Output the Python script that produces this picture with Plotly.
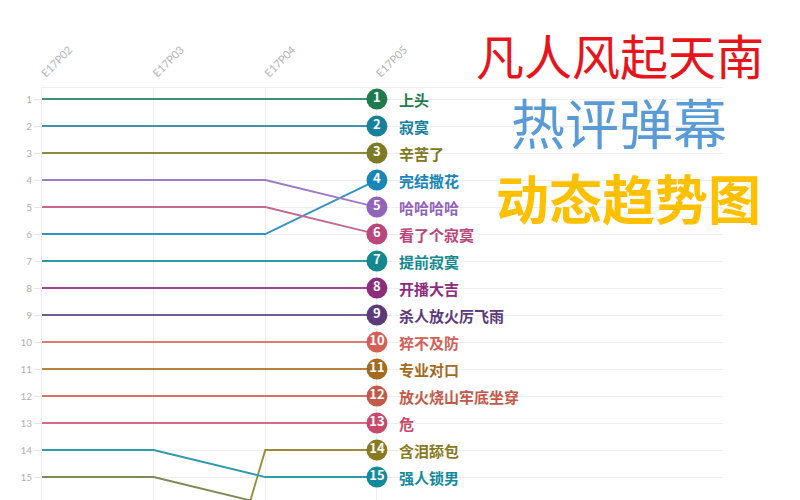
import plotly.graph_objects as go

episodes = ["E17P02", "E17P03", "E17P04", "E17P05"]
names = ["上头", "寂寞", "辛苦了", "完结撒花", "哈哈哈哈", "看了个寂寞", "提前寂寞", "开播大吉",
         "杀人放火厉飞雨", "猝不及防", "专业对口", "放火烧山牢底坐穿", "危", "含泪舔包", "强人锁男", "其他"]
ranks = [
    [1, 1, 1, 1],
    [2, 2, 2, 2],
    [3, 3, 3, 3],
    [6, 6, 6, 4],
    [4, 4, 4, 5],
    [5, 5, 5, 6],
    [7, 7, 7, 7],
    [8, 8, 8, 8],
    [9, 9, 9, 9],
    [10, 10, 10, 10],
    [11, 11, 11, 11],
    [12, 12, 12, 12],
    [13, 13, 13, 13],
    [30, 28, 14, 14],
    [14, 14, 15, 15],
    [15, 15, 16, 17],
]
colors = ["#1f7a4e", "#17809a", "#7d7a25", "#1a86b8", "#9163b9", "#b9477c", "#13898f", "#8b2d7b",
          "#5d3b7b", "#d25f58", "#a46b1f", "#c25949", "#c9496b", "#8a7a1f", "#138a9b", "#6b7b3a"]
line_colors = ["#3d9274", "#3f93aa", "#8d8a3e", "#2f93c2", "#9f7bc4", "#c46a93", "#2e9aa0", "#9a4a8c",
               "#755a90", "#dc7a74", "#b3833f", "#cf7466", "#d56a86", "#9a8c3b", "#2f9aa9", "#7d8a55"]

x_idx = list(range(len(episodes)))
ymin, ymax = 0.59, 15.85
last = len(episodes) - 1

fig = go.Figure()
for n, r, lc in zip(names, ranks, line_colors):
    fig.add_trace(go.Scatter(x=x_idx, y=r, mode="lines", line=dict(color=lc, width=1.9),
                             hoverinfo="skip", showlegend=False, name=n))

vis = [i for i, r in enumerate(ranks) if r[last] <= ymax]
final_ranks = [ranks[i][last] for i in vis]
fig.add_trace(go.Scatter(
    x=[last] * len(vis), y=final_ranks, mode="markers+text",
    marker=dict(size=21, color=[colors[i] for i in vis], line=dict(width=0)),
    text=[str(v) for v in final_ranks], textposition="middle center",
    textfont=dict(color="white", size=13, family="Noto Sans CJK SC", weight="bold"),
    showlegend=False, hoverinfo="skip"))

annotations = []
for i in vis:
    annotations.append(dict(x=last, y=ranks[i][last], xref="x", yref="y", text=names[i], showarrow=False,
                            xanchor="left", yanchor="middle", xshift=20,
                            font=dict(color=colors[i], size=15, family="Noto Sans CJK SC", weight="bold")))

# page offset: the html body adds 8px; plot area wanted at x 42..723, y 88..500 in the window
L, T, R, B = 34, 80, 85, 8
PW, PH = 800 - L - R, 500 - T - B
titles = [("凡人风起天南", "#e8141c", 48, "normal", 620, 54),
          ("热评弹幕", "#5b9bd5", 54, "normal", 619, 122),
          ("动态趋势图", "#ffc000", 53, "bold", 628, 197)]
for t, c, s, w, px, py in titles:
    annotations.append(dict(x=(px - 8 - L) / PW, y=(500 - (py - 8) - B) / PH, xref="paper", yref="paper",
                            text=t, showarrow=False, xanchor="center", yanchor="middle",
                            font=dict(color=c, size=s, family="Noto Sans CJK SC", weight=w)))

fig.update_layout(
    width=800, height=500,
    margin=dict(l=L, r=R, t=T, b=B),
    paper_bgcolor="white", plot_bgcolor="white",
    annotations=annotations,
    xaxis=dict(side="top", range=[0, 6.1], tickvals=x_idx, ticktext=episodes, tickangle=-45,
               showgrid=True, gridcolor="#eeeeee", gridwidth=1, zeroline=False,
               showline=True, linecolor="#eeeeee", ticks="", ticklabelstandoff=3,
               tickfont=dict(color="#b4b4b4", size=11, family="Lato")),
    yaxis=dict(range=[ymax, ymin], tickvals=list(range(1, 16)), showgrid=True, gridcolor="#eeeeee",
               zeroline=False, showline=True, linecolor="#eeeeee", ticks="outside", ticklen=7,
               tickcolor="#e6e6e6", tickfont=dict(color="#b0b0b0", size=10, family="Lato")),
)

fig.write_html("out.html")
